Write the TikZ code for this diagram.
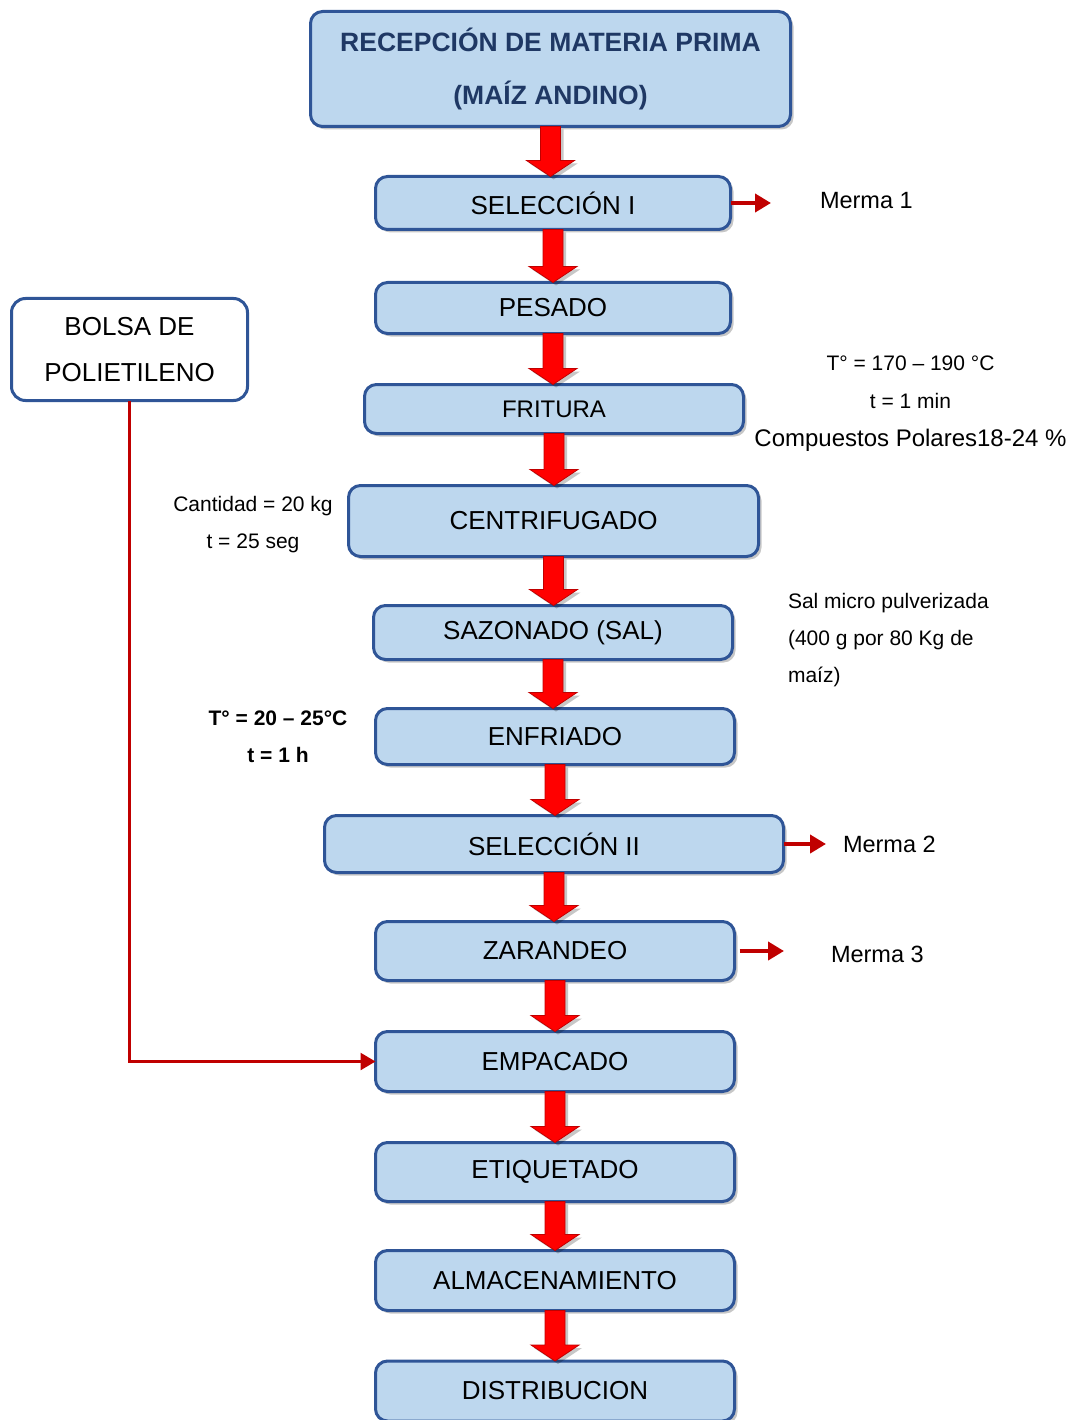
\documentclass[tikz,border=0pt]{standalone}
\usepackage{fontspec}
\setmainfont{Liberation Sans}
\usetikzlibrary{arrows.meta,calc,shadows}
\definecolor{celeste}{RGB}{189,215,238}
\definecolor{azulborde}{RGB}{47,85,151}
\definecolor{azultexto}{RGB}{31,56,100}
\definecolor{rojooscuro}{RGB}{192,0,0}
% flecha de bloque roja entre dos etapas
\newcommand{\flecha}[2]{%
  \path[bloque] let \p1=(#1.south), \p2=(#2.north) in
    (\x1-10pt,\y1) -- (\x1+10pt,\y1) -- (\x1+10pt,\y2+16pt) -- (\x1+24pt,\y2+16pt)
    -- (\x1,\y2) -- (\x1-24pt,\y2+16pt) -- (\x1-10pt,\y2+16pt) -- cycle;}
\begin{document}
\begin{tikzpicture}[x=1pt, y=-1pt,
    every node/.style={inner sep=0pt, outer sep=0pt},
    sombra/.style={drop shadow={shadow xshift=3pt, shadow yshift=-3pt, fill=black, opacity=0.22}},
    etapa/.style={draw=azulborde, line width=3pt, fill=celeste, rounded corners=12pt, sombra, font=\fontsize{26}{30}\selectfont},
    dato/.style={font=\fontsize{21}{37}\selectfont, align=center},
    bloque/.style={draw=rojooscuro, fill=red, line width=0.8pt, line join=miter, sombra},
    merma/.style={draw=rojooscuro, line width=4pt, -{Triangle[length=16pt, width=18pt]}},
    conector/.style={draw=rojooscuro, line width=2.5pt, -{Triangle[length=15pt, width=17pt]}},
    textomerma/.style={anchor=west, font=\fontsize{23.5}{28}\selectfont}]
    \useasboundingbox (0,0) rectangle (1077,1420);

    % etapas del proceso
    \node[etapa, minimum width=480pt, minimum height=115pt, align=center, text=azultexto, font=\fontsize{26.5}{53}\selectfont\bfseries] (recepcion) at (550.5,69) {RECEPCIÓN DE MATERIA PRIMA\\(MAÍZ ANDINO)};
    \node[etapa, minimum width=355pt, minimum height=53pt] (sel1) at (553,203) {SELECCIÓN I};
    \node[etapa, minimum width=355pt, minimum height=51pt] (pesado) at (553,308) {PESADO};
    \node[etapa, minimum width=379pt, minimum height=49pt, font=\fontsize{24}{28}\selectfont] (fritura) at (554,409) {FRITURA};
    \node[etapa, minimum width=410pt, minimum height=71pt] (centri) at (553.5,521) {CENTRIFUGADO};
    \node[etapa, minimum width=359pt, minimum height=54pt] (sazonado) at (553,632.5) {SAZONADO (SAL)};
    \node[etapa, minimum width=359pt, minimum height=56pt] (enfriado) at (555,736.5) {ENFRIADO};
    \node[etapa, minimum width=459pt, minimum height=57pt] (sel2) at (554,844) {SELECCIÓN II};
    \node[etapa, minimum width=359pt, minimum height=59pt] (zarandeo) at (555,951) {ZARANDEO};
    \node[etapa, minimum width=359pt, minimum height=60pt] (empacado) at (555,1061.5) {EMPACADO};
    \node[etapa, minimum width=359pt, minimum height=59pt] (etiquetado) at (555,1172) {ETIQUETADO};
    \node[etapa, minimum width=359pt, minimum height=60pt] (almacen) at (555,1280.5) {ALMACENAMIENTO};
    \node[etapa, minimum width=359pt, minimum height=60pt] (distribucion) at (555,1391) {DISTRIBUCION};

    \node[draw=azulborde, line width=3pt, fill=white, rounded corners=14pt, minimum width=236pt, minimum height=102pt, align=center, font=\fontsize{26}{46}\selectfont] (bolsa) at (129.5,349.5) {BOLSA DE\\POLIETILENO};

    % flechas de bloque
    \flecha{recepcion}{sel1}
    \flecha{sel1}{pesado}
    \flecha{pesado}{fritura}
    \flecha{fritura}{centri}
    \flecha{centri}{sazonado}
    \flecha{sazonado}{enfriado}
    \flecha{enfriado}{sel2}
    \flecha{sel2}{zarandeo}
    \flecha{zarandeo}{empacado}
    \flecha{empacado}{etiquetado}
    \flecha{etiquetado}{almacen}
    \flecha{almacen}{distribucion}

    % mermas
    \coordinate (m1) at (771,203);
    \coordinate (m2) at (826,844);
    \coordinate (m3) at (784,951);
    \draw[merma] (sel1.east) -- (m1);
    \draw[merma] (sel2.east) -- (m2);
    \draw[merma, shorten <=5pt] (zarandeo.east) -- (m3);
    \node[textomerma] (tm1) at (820,201) {Merma 1};
    \node[textomerma] (tm2) at (843,844) {Merma 2};
    \node[textomerma] (tm3) at (831,954) {Merma 3};

    % datos de proceso
    \node[dato, font=\fontsize{21}{38}\selectfont] (dfritura) at (910.5,404) {T° = 170 – 190 °C\\t = 1 min\\{\fontsize{24}{38}\selectfont Compuestos Polares18-24 \%}};
    \node[dato] (dcentri) at (253,524.5) {Cantidad = 20 kg\\t = 25 seg};
    \node[dato, align=left, anchor=west] (dsal) at (788,640) {Sal micro pulverizada\\(400 g por 80 Kg de\\maíz)};
    \node[dato, font=\fontsize{21}{37}\selectfont\bfseries] (denfriado) at (278,736.5) {T° = 20 – 25°C\\t = 1 h};

    % bolsa al empacado
    \draw[conector] (bolsa.south) |- (empacado.west);
\end{tikzpicture}
\end{document}
